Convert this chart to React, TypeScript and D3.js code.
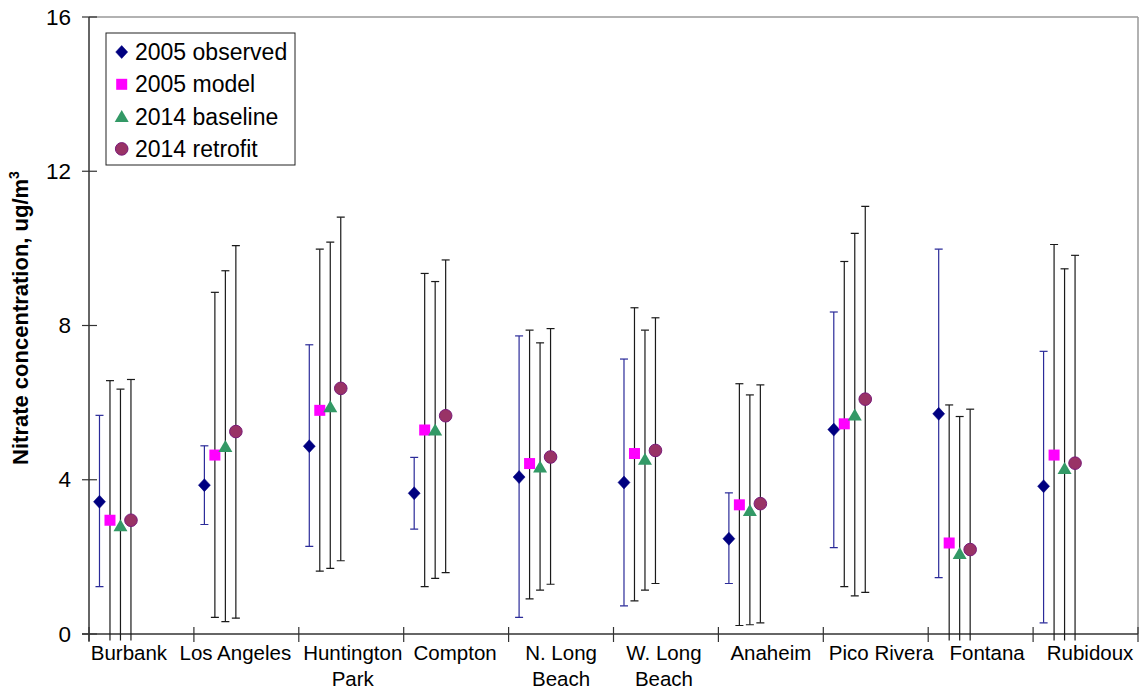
import React from "react";
import * as d3 from "d3";

const categories: string[][] = [
  ["Burbank"], ["Los Angeles"], ["Huntington", "Park"], ["Compton"], ["N. Long", "Beach"],
  ["W. Long", "Beach"], ["Anaheim"], ["Pico Rivera"], ["Fontana"], ["Rubidoux"],
];

const obsMean = [3.43, 3.86, 4.87, 3.65, 4.07, 3.93, 2.47, 5.3, 5.71, 3.83];
const obsHigh = [5.67, 4.88, 7.5, 4.58, 7.73, 7.13, 3.66, 8.35, 9.98, 7.33];
const obsLow = [1.23, 2.84, 2.27, 2.72, 0.43, 0.73, 1.31, 2.24, 1.46, 0.29];

const modelMean = [2.95, 4.64, 5.8, 5.29, 4.42, 4.68, 3.35, 5.45, 2.36, 4.64];
const modelHigh = [6.57, 8.86, 9.98, 9.35, 7.88, 8.46, 6.49, 9.66, 5.94, 10.1];
const modelLow = [-0.7, 0.43, 1.63, 1.23, 0.91, 0.86, 0.22, 1.23, -1.2, -0.8];

const baseMean = [2.81, 4.86, 5.89, 5.29, 4.33, 4.53, 3.2, 5.68, 2.09, 4.29];
const baseHigh = [6.35, 9.42, 10.16, 9.14, 7.55, 7.88, 6.2, 10.39, 5.64, 9.47];
const baseLow = [-0.7, 0.32, 1.7, 1.44, 1.14, 1.14, 0.24, 0.99, -1.5, -0.9];

const retroMean = [2.95, 5.25, 6.37, 5.66, 4.59, 4.76, 3.38, 6.09, 2.19, 4.43];
const retroHigh = [6.6, 10.07, 10.81, 9.7, 7.92, 8.2, 6.46, 11.09, 5.83, 9.82];
const retroLow = [-0.7, 0.41, 1.9, 1.59, 1.29, 1.31, 0.29, 1.08, -1.4, -1.0];

const yTicks = [0, 4, 8, 12, 16];

const seriesNames = ["2005 observed", "2005 model", "2014 baseline", "2014 retrofit"];

// label nudges (layout only, px) to mimic the original's label placement
const LABEL_NUDGE = [-12.5, -11, 1.5, -1, 0, -2, 0, 5.5, 6.5, 4.5];

type Series = { name: string; mean: number[]; low: number[]; high: number[]; shape: string; fill: string; stroke: string; bar: string };

const series: Series[] = [
  { name: seriesNames[0], mean: obsMean, low: obsLow, high: obsHigh, shape: "diamond", fill: "#000080", stroke: "#000080", bar: "#2b2b99" },
  { name: seriesNames[1], mean: modelMean, low: modelLow, high: modelHigh, shape: "square", fill: "#FF00FF", stroke: "#FF00FF", bar: "#1a1a1a" },
  { name: seriesNames[2], mean: baseMean, low: baseLow, high: baseHigh, shape: "triangle", fill: "#339966", stroke: "#339966", bar: "#1a1a1a" },
  { name: seriesNames[3], mean: retroMean, low: retroLow, high: retroHigh, shape: "circle", fill: "#993366", stroke: "#7a1a7a", bar: "#1a1a1a" },
];

function Marker({ shape, x, y, fill, stroke }: { shape: string; x: number; y: number; fill: string; stroke: string }) {
  if (shape === "diamond") {
    return <polygon points={`${x},${y - 6.5} ${x + 6},${y} ${x},${y + 6.5} ${x - 6},${y}`} fill={fill} stroke={stroke} strokeWidth={0.5} />;
  }
  if (shape === "square") {
    return <rect x={x - 5.5} y={y - 5.5} width={11} height={11} fill={fill} />;
  }
  if (shape === "triangle") {
    return <polygon points={`${x},${y - 6.5} ${x + 7},${y + 5.5} ${x - 7},${y + 5.5}`} fill={fill} />;
  }
  return <circle cx={x} cy={y} r={6.3} fill={fill} stroke={stroke} strokeWidth={1} />;
}

export default function App() {
  const W = 1141, H = 690;
  const left = 89, right = 1138, top = 17, bottom = 634;
  const x = d3.scaleLinear().domain([0, categories.length]).range([left, right]);
  const y = d3.scaleLinear().domain([0, 16]).range([bottom, top]);
  const font = "Arial, 'Liberation Sans', sans-serif";

  return (
    <svg width={W} height={H} style={{ position: "absolute", left: 0, top: 0, background: "#fff" }} fontFamily={font}>
      <defs>
        <clipPath id="plotclip">
          <rect x={left} y={top - 2} width={right - left} height={bottom - top + 8.5} />
        </clipPath>
      </defs>
      {/* plot border top/right */}
      <line x1={left} y1={top} x2={right} y2={top} stroke="#999" strokeWidth={1.5} />
      <line x1={right} y1={top} x2={right} y2={bottom} stroke="#999" strokeWidth={1.5} />

      {/* y axis */}
      <line x1={left} y1={top} x2={left} y2={bottom + 7} stroke="#333" strokeWidth={1.5} />
      {yTicks.map((t) => (
        <g key={t}>
          <line x1={left - 7} x2={left + 8} y1={y(t)} y2={y(t)} stroke="#333" strokeWidth={1.2} />
          <text x={71} y={y(t)} textAnchor="end" dominantBaseline="central" fontSize={22.5} fill="#000">{t}</text>
        </g>
      ))}

      {/* x axis */}
      <line x1={left - 7} y1={bottom} x2={right} y2={bottom} stroke="#333" strokeWidth={1.5} />
      {d3.range(categories.length + 1).map((i) => (
        <line key={i} x1={x(i)} x2={x(i)} y1={bottom - 7} y2={bottom + 8} stroke="#333" strokeWidth={1.2} />
      ))}
      {categories.map((lines, i) => {
        const cx = x(i + 0.5) + LABEL_NUDGE[i];
        return (
          <text key={i} x={cx} y={660} textAnchor="middle" fontSize={20.5} fill="#000">
            {lines.map((l, j) => (
              <tspan key={j} x={cx} dy={j === 0 ? 0 : 26}>{l}</tspan>
            ))}
          </text>
        );
      })}

      {/* error bars and markers */}
      <g clipPath="url(#plotclip)">
        {series.map((s, k) =>
          s.mean.map((m, i) => {
            const cx = x(i + 0.1 * (k + 1));
            return (
              <g key={`${k}-${i}`}>
                <line x1={cx} x2={cx} y1={y(s.high[i])} y2={y(s.low[i])} stroke={s.bar} strokeWidth={1.2} />
                <line x1={cx - 4} x2={cx + 4} y1={y(s.high[i])} y2={y(s.high[i])} stroke={s.bar} strokeWidth={1.2} />
                <line x1={cx - 4} x2={cx + 4} y1={y(s.low[i])} y2={y(s.low[i])} stroke={s.bar} strokeWidth={1.2} />
              </g>
            );
          })
        )}
      </g>
      {series.map((s, k) =>
        s.mean.map((m, i) => (
          <Marker key={`m${k}-${i}`} shape={s.shape} x={x(i + 0.1 * (k + 1))} y={y(m)} fill={s.fill} stroke={s.stroke} />
        ))
      )}

      {/* legend */}
      <rect x={106} y={33} width={189} height={132} fill="#fff" stroke="#222" strokeWidth={1} />
      {series.map((s, k) => (
        <g key={`l${k}`}>
          <Marker shape={s.shape} x={121.7} y={52 + k * 32.3} fill={s.fill} stroke={s.stroke} />
          <text x={135} y={52 + k * 32.3} dominantBaseline="central" fontSize={23} fill="#000">{s.name}</text>
        </g>
      ))}

      {/* y axis title */}
      <text transform={`translate(28, 318) rotate(-90)`} textAnchor="middle" fontSize={22} fontWeight="bold" fill="#000">
        Nitrate concentration, ug/m<tspan dy={-9} fontSize={14}>3</tspan>
      </text>
    </svg>
  );
}
